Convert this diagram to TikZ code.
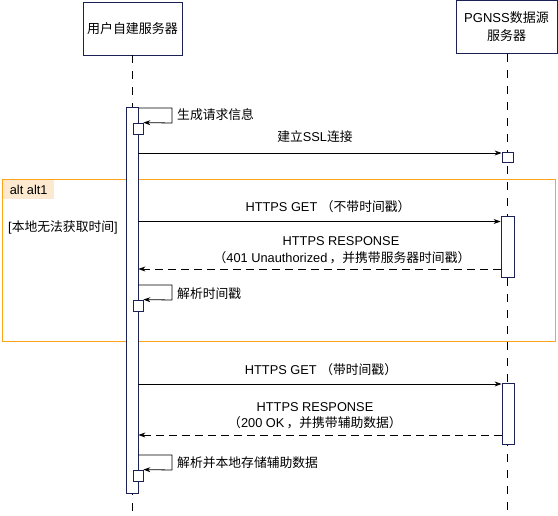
\documentclass[tikz,border=0pt]{standalone}
\usepackage{fontspec}
\setmainfont{Liberation Sans}
\newfontfamily\cjk{Noto Sans CJK SC}
\usetikzlibrary{arrows.meta}
\definecolor{navy}{HTML}{1B2155}
\definecolor{altorange}{HTML}{FFA31A}
\definecolor{altfill}{HTML}{FDE9CF}
\tikzset{
 actor/.style={draw=navy, fill=white, minimum width=99pt, minimum height=53pt, inner sep=0pt, align=center, font=\fontsize{13}{18}\selectfont},
 lifeline/.style={draw=black, dash pattern=on 8pt off 8pt, line width=0.8pt},
 actbar/.style={draw=navy, fill=white, minimum width=12pt, inner sep=0pt, line width=0.8pt},
 selfbox/.style={draw=navy, fill=white, minimum width=10pt, minimum height=11pt, inner sep=0pt, line width=0.8pt},
 msg/.style={draw=black, -{Stealth[length=7pt,width=5pt]}, line width=0.8pt},
 reply/.style={msg, dash pattern=on 8pt off 5pt},
 lbl/.style={font=\fontsize{12.8}{16}\selectfont, inner sep=0pt, align=center},
 altframe/.style={draw=altorange, line width=1pt, inner sep=0pt},
 alttag/.style={fill=altfill, inner sep=0pt, font=\fontsize{12.8}{16}\selectfont},
}
\begin{document}
\begin{tikzpicture}[x=1pt,y=-1pt]
\useasboundingbox (0,0) rectangle (558,516);
% alt frame
\node[altframe, anchor=north west, minimum width=553pt, minimum height=162pt] (alt) at (2,179) {};
\node[alttag, anchor=north west, minimum width=51pt, minimum height=19pt] (tag) at (3,180) {alt alt1};
\node[lbl, anchor=west] (cond) at (8,227) {[{\cjk 本地无法获取时间}]};
% actors
\node[actor] (A) at (132.5,28.5) {\cjk 用户自建服务器};
\node[actor, minimum width=101pt] (B) at (506.5,27) {PGNSS{\cjk 数据源}\\{\cjk 服务器}};
\coordinate (Aend) at (132.5,516);
\coordinate (Bend) at (507.5,516);
\draw[lifeline] (A.south) -- (Aend);
\draw[lifeline] (B.south -| Bend) -- (Bend);
% activation bars
\node[actbar, minimum height=386pt] (abar) at (132,300) {};
\node[actbar, minimum width=11pt, minimum height=10pt] (ssl) at (507.5,157) {};
\node[actbar, minimum width=13pt, minimum height=61pt] (b1) at (507.5,246.5) {};
\node[actbar, minimum width=12pt, minimum height=61pt] (b2) at (508,413.5) {};
\node[selfbox] (s1) at (138,128.5) {};
\node[selfbox] (s2) at (138,305.5) {};
\node[selfbox] (s3) at (138,475.5) {};
% self calls
\coordinate (c1a) at (172,108);
\coordinate (c1b) at (172,123);
\draw[msg] (abar.east |- c1a) -- (c1a) -- (c1b) -- (s1.north east);
\node[lbl, anchor=west] (l1) at (177,115) {\cjk 生成请求信息};
\coordinate (c2a) at (172,285);
\coordinate (c2b) at (172,300);
\draw[msg] (abar.east |- c2a) -- (c2a) -- (c2b) -- (s2.north east);
\node[lbl, anchor=west] (l2) at (177,294) {\cjk 解析时间戳};
\coordinate (c3a) at (172,455);
\coordinate (c3b) at (172,470);
\draw[msg] (abar.east |- c3a) -- (c3a) -- (c3b) -- (s3.north east);
\node[lbl, anchor=west] (l3) at (177,463) {\cjk 解析并本地存储辅助数据};
% messages
\coordinate (m1) at (0,153);
\draw[msg] (abar.east |- m1) -- (ssl.west |- m1);
\node[lbl] (t1) at (315,137) {{\cjk 建立}SSL{\cjk 连接}};
\coordinate (m2) at (0,221.5);
\draw[msg] (abar.east |- m2) -- (b1.west |- m2);
\node[lbl] (t2) at (328,207) {HTTPS GET {\cjk （不带时间戳）}};
\coordinate (m3) at (0,269);
\draw[reply] (b1.west |- m3) -- (abar.east |- m3);
\node[lbl] (t3) at (341,241) {HTTPS RESPONSE};
\node[lbl] (t3b) at (342,258) {{\cjk （}401 Unauthorized\,{\cjk ，并携带服务器时间戳）}};
\coordinate (m4) at (0,384);
\draw[msg] (abar.east |- m4) -- (b2.west |- m4);
\node[lbl] (t4) at (321,370) {HTTPS GET {\cjk （带时间戳）}};
\coordinate (m5) at (0,435);
\draw[reply] (b2.west |- m5) -- (abar.east |- m5);
\node[lbl] (t5) at (315,407) {HTTPS RESPONSE};
\node[lbl] (t5b) at (315,423) {{\cjk （}200 OK\,{\cjk ，并携带辅助数据）}};
\end{tikzpicture}
\end{document}
